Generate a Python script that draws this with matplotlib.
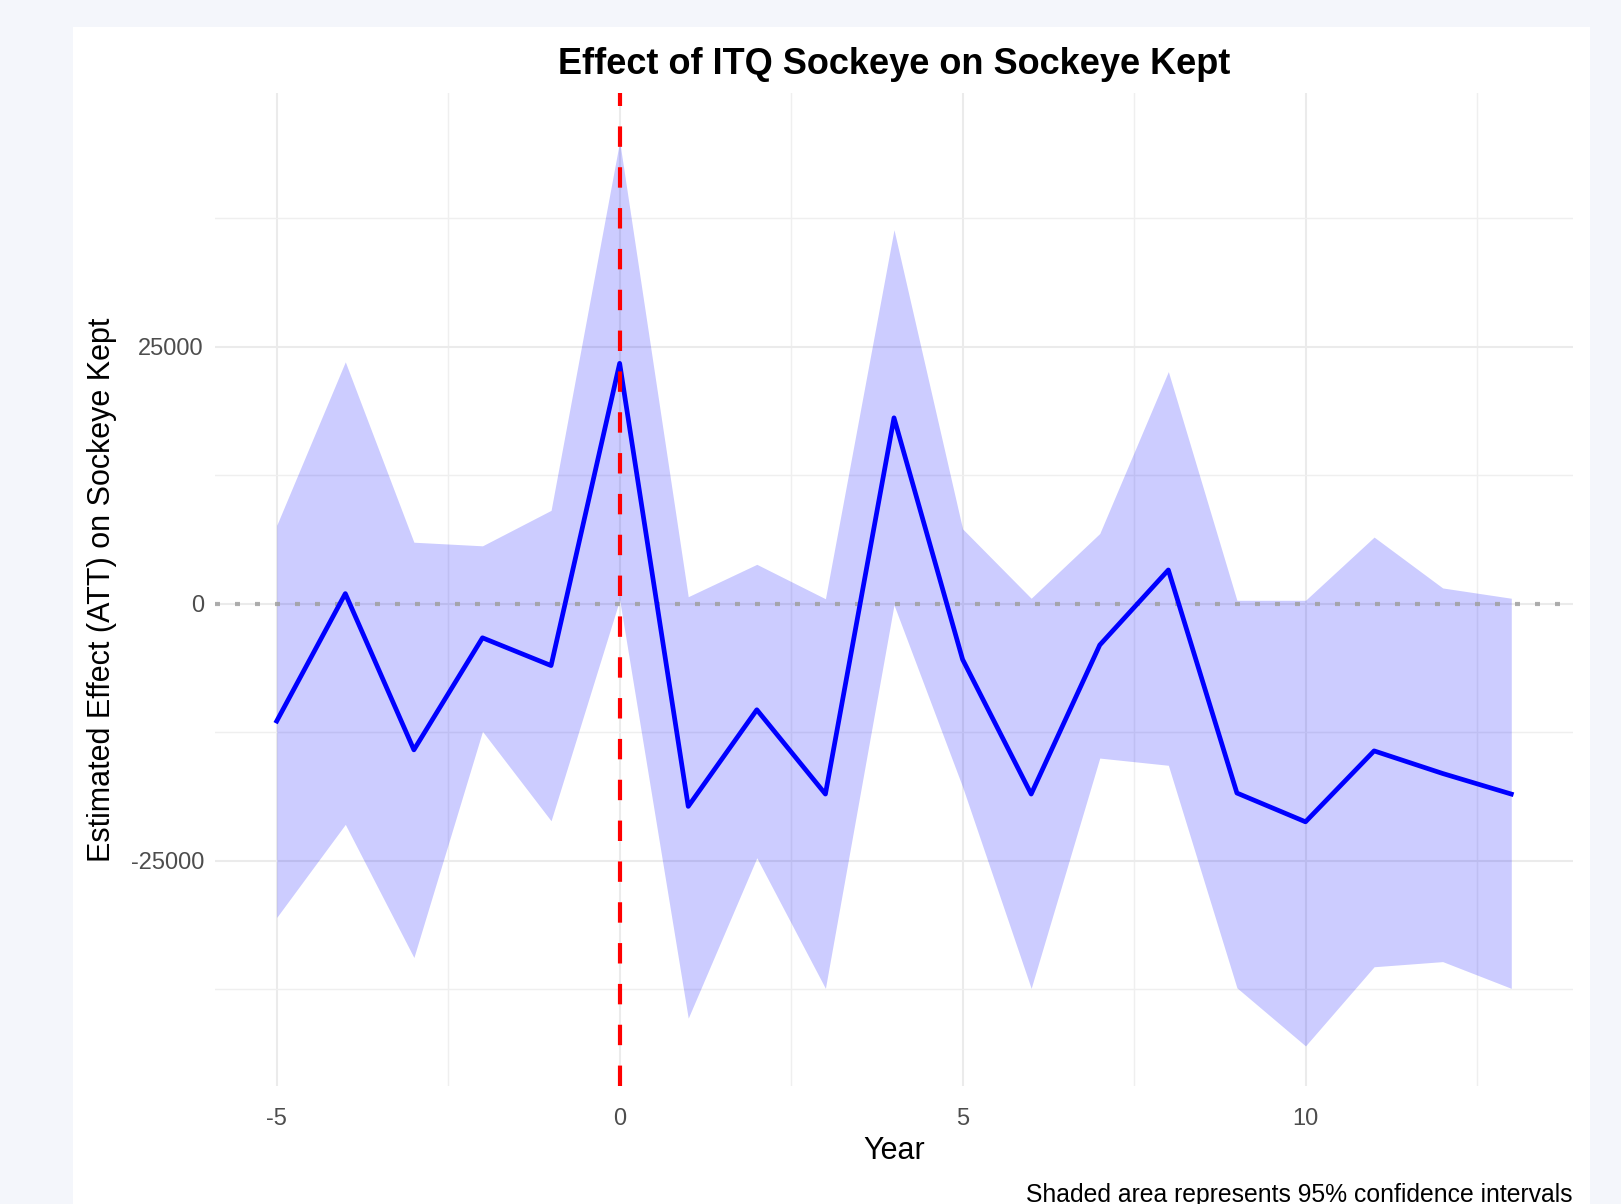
import matplotlib
matplotlib.use("Agg")
import matplotlib.pyplot as plt
from matplotlib.patches import Rectangle

years = list(range(-5, 14))
att = [-11400, 1000, -14200, -3300, -6000, 23400, -19700, -10300, -18500, 18100,
       -5400, -18500, -4000, 3300, -18400, -21200, -14300, -16500, -18500]
upper = [7650, 23550, 6000, 5650, 9100, 45000, 700, 3850, 500, 36400,
         7300, 550, 6850, 22600, 350, 350, 6500, 1550, 550]
lower = [-30500, -21450, -34400, -12400, -21100, 400, -40300, -24700, -37400, -100,
         -17800, -37400, -15000, -15700, -37350, -43000, -35300, -34800, -37400]

x_ticks = [-5, 0, 5, 10]
y_ticks = [-25000, 0, 25000]
title = "Effect of ITQ Sockeye on Sockeye Kept"
xlabel = "Year"
ylabel = "Estimated Effect (ATT) on Sockeye Kept"
caption = "Shaded area represents 95% confidence intervals"

plt.rcParams['font.family'] = ['Liberation Sans', 'DejaVu Sans']
plt.rcParams['axes.unicode_minus'] = False

W, H = 1621, 1204
fig = plt.figure(figsize=(W / 100, H / 100), dpi=100)
fig.patch.set_facecolor('#F4F6FB')
bg = Rectangle((73 / W, 0), (1590 - 73) / W, (H - 27) / H,
               transform=fig.transFigure, facecolor='white',
               edgecolor='none', zorder=-10)
fig.patches.append(bg)

ax = fig.add_axes([215 / W, (H - 1086) / H, (1573 - 215) / W, (1086 - 93) / H])
ax.set_zorder(5)
ax.set_facecolor('none')

ax.set_xlim(-5 - 0.05 * 18, 13 + 0.05 * 18)
ax.set_ylim(-46900, 49700)

# grid
ax.set_xticks(x_ticks)
ax.set_yticks(y_ticks)
ax.set_xticks([-2.5, 2.5, 7.5, 12.5], minor=True)
ax.set_yticks([-37500, -12500, 12500, 37500], minor=True)
ax.grid(which='major', color='#EBEBEB', linewidth=1.5, zorder=0)
ax.grid(which='minor', color='#EFEFEF', linewidth=1.0, zorder=0)
ax.set_axisbelow(True)
for s in ax.spines.values():
    s.set_visible(False)
ax.tick_params(which='both', length=0)
ax.tick_params(axis='both', labelsize=17, labelcolor='#4D4D4D')
ax.tick_params(axis='x', pad=16)
ax.tick_params(axis='y', pad=8)

ax.fill_between(years, lower, upper, color='blue', alpha=0.2, linewidth=0, zorder=1)
ax.axhline(0, color='#A0A0A0', linestyle=(0, (1.2, 3.6)), linewidth=3.0, alpha=0.85, zorder=2)
ax.plot(years, att, color='blue', linewidth=3.4, solid_joinstyle='round', zorder=3)
ax.axvline(0, color='red', linestyle=(0, (4.9, 4.9)), linewidth=3.0, zorder=4)

ax.set_title(title, fontsize=26, fontweight='bold', pad=14)
ax.set_xlabel(xlabel, fontsize=22, labelpad=4)
ax.set_ylabel(ylabel, fontsize=22, labelpad=10)

fig.text(1573 / W, (H - 1195) / H, caption, ha='right', va='center',
         fontsize=17.8, color='black', zorder=6)

fig.savefig('out.png', dpi=100, facecolor=fig.get_facecolor())
